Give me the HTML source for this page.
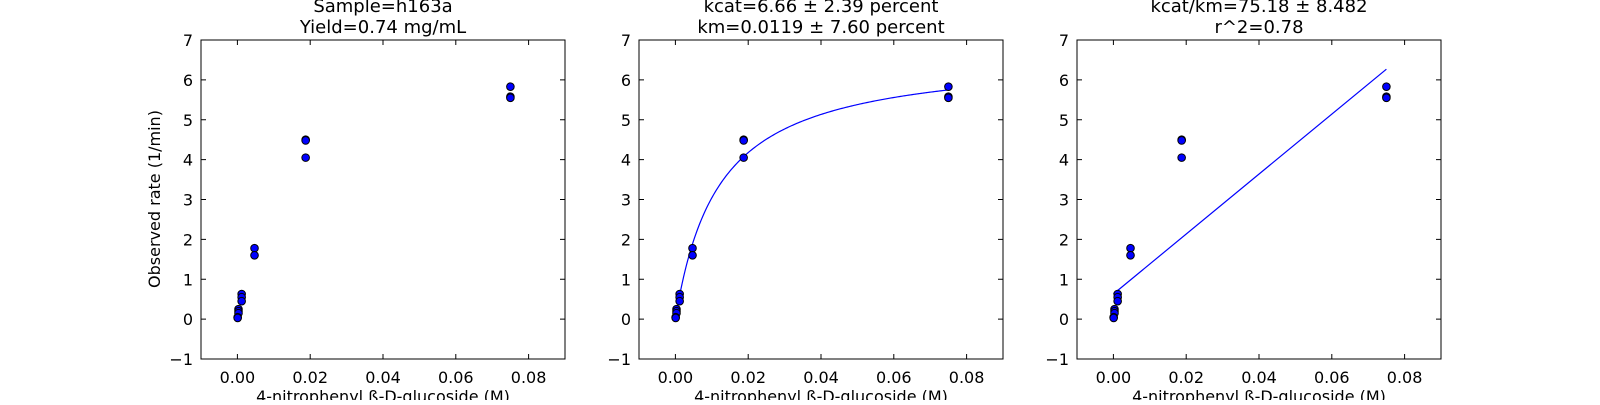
<!DOCTYPE html>
<html><head><meta charset="utf-8"><style>
body{margin:0;background:#fff;width:1600px;height:400px;overflow:hidden}
svg text{font-family:"DejaVu Sans","Liberation Sans",sans-serif;fill:#000}
</style></head><body>
<svg id="chart" width="1600" height="400" xmlns="http://www.w3.org/2000/svg"></svg>
<script>
const xData=[0.075,0.075,0.075,0.01875,0.01875,0.01875,0.0047,0.0047,0.00117,0.00117,0.00117,0.0003,0.0003,0.0003,0.00007,0.00007];
const yData=[5.83,5.58,5.55,4.50,4.48,4.05,1.78,1.60,0.63,0.55,0.45,0.25,0.20,0.15,0.05,0.03];
const xTicks=[0.00,0.02,0.04,0.06,0.08];
const yTicks=[-1,0,1,2,3,4,5,6,7];
const kcat=[6.66];
const km=[0.0119];
const slope=[75.18];
const intercept=[0.63];
const titles=[["Sample=h163a","Yield=0.74 mg/mL"],["kcat=6.66 \u00b1 2.39 percent","km=0.0119 \u00b1 7.60 percent"],["kcat/km=75.18 \u00b1 8.482","r^2=0.78"]];
const panelLeft=[201,639,1077];
const W=364,T=40,B=359;
const NS="http://www.w3.org/2000/svg";
const svg=document.getElementById('chart');
function mk(tag,attrs,parent){const e=document.createElementNS(NS,tag);for(const k in attrs)e.setAttribute(k,attrs[k]);(parent||svg).appendChild(e);return e;}
const ys=v=>B-(v+1)*(B-T)/8;
panelLeft.forEach((L,p)=>{
  const xs=v=>L+(v+0.01)*W/0.1;
  const g=mk('g',{});
  
  
  if(p===1){
    let d='';
    for(let i=0;i<=200;i++){const x=0.075*i/200;const y=kcat[0]*x/(km[0]+x);d+=(i?'L':'M')+xs(x).toFixed(2)+','+ys(y).toFixed(2);}
    const c=mk('path',{d:d,fill:'none',stroke:'#0000ff','stroke-width':1.2},g);
    
    
  }
  if(p===2){
    const x0=0,x1=0.075;
    const l=mk('line',{x1:xs(x0),y1:ys(intercept[0]+slope[0]*x0),x2:xs(x1),y2:ys(intercept[0]+slope[0]*x1),stroke:'#0000ff','stroke-width':1.2},g);
    
    
  }
  xData.forEach((x,i)=>{
    const c=mk('circle',{cx:xs(x),cy:ys(yData[i]),r:3.8,fill:'#0000ff',stroke:'#000','stroke-width':1},g);
    
    
  });
  const f=mk('rect',{x:L,y:T,width:W,height:B-T,fill:'none',stroke:'#000','stroke-width':1},g);
  
  
  xTicks.forEach(v=>{
    const x=xs(v);
    mk('line',{x1:x,y1:B,x2:x,y2:B-5,stroke:'#000'},g);
    mk('line',{x1:x,y1:T,x2:x,y2:T+5,stroke:'#000'},g);
    const t=mk('text',{x:x,y:B+24,'text-anchor':'middle','font-size':16},g);
    t.textContent=v.toFixed(2);
    
    
  });
  yTicks.forEach(v=>{
    const y=ys(v);
    mk('line',{x1:L,y1:y,x2:L+5,y2:y,stroke:'#000'},g);
    mk('line',{x1:L+W,y1:y,x2:L+W-5,y2:y,stroke:'#000'},g);
    const t=mk('text',{x:L-8,y:y+6,'text-anchor':'end','font-size':16},g);
    t.textContent=v<0?'\u2212'+Math.abs(v):String(v);
    
    
  });
  titles[p].forEach((s,i)=>{
    const t=mk('text',{x:L+W/2,y:12+i*21,'text-anchor':'middle','font-size':18},g);
    t.textContent=s;
    
    
  });
  const xl=mk('text',{x:L+W/2,y:402,'text-anchor':'middle','font-size':16},g);
  xl.textContent='4-nitrophenyl \u00df-D-glucoside (M)';
  
  
});
const yl=mk('text',{x:0,y:0,'text-anchor':'middle','font-size':16,transform:'translate(160,199) rotate(-90)'});
yl.textContent='Observed rate (1/min)';


</script>
</body></html>
